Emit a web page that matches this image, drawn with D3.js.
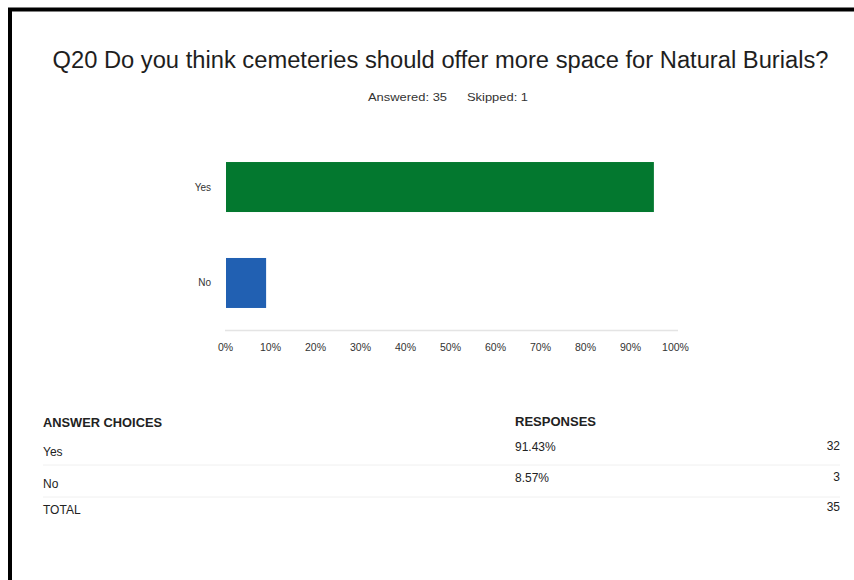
<!DOCTYPE html>
<html>
<head>
<meta charset="utf-8">
<script src="https://cdn.jsdelivr.net/npm/d3@7"></script>
<style>
  html, body { margin: 0; padding: 0; background: #fff; }
  svg { display: block; font-family: "Liberation Sans", Arial, sans-serif; }
</style>
</head>
<body>
<svg id="chart" width="854" height="580"></svg>
<script>
// Survey question Q20 results
const title = "Q20 Do you think cemeteries should offer more space for Natural Burials?";
const answered = 35;
const skipped = 1;
const categories = ["Yes", "No"];
const percents = [91.43, 8.57];
const counts = [32, 3];
const total = 35;
const tickValues = [0, 10, 20, 30, 40, 50, 60, 70, 80, 90, 100];
const tickLabels = ["0%", "10%", "20%", "30%", "40%", "50%", "60%", "70%", "80%", "90%", "100%"];
const barColors = ["#03782f", "#2160b2"];

const svg = d3.select("#chart");

// page frame
svg.append("path")
  .attr("d", "M10,580 V9.5 H854")
  .attr("fill", "none")
  .attr("stroke", "#000")
  .attr("stroke-width", 4);

// heading
svg.append("text")
  .attr("x", 52.5).attr("y", 68.3)
  .attr("font-size", 23)
  .attr("fill", "#1e1e1e")
  .attr("textLength", 776)
  .attr("lengthAdjust", "spacingAndGlyphs")
  .text(title);

svg.append("text")
  .attr("x", 368).attr("y", 101)
  .attr("font-size", 11)
  .attr("fill", "#333")
  .attr("textLength", 79)
  .attr("lengthAdjust", "spacingAndGlyphs")
  .text(`Answered: ${answered}`);
svg.append("text")
  .attr("x", 467).attr("y", 101)
  .attr("font-size", 11)
  .attr("fill", "#333")
  .attr("textLength", 61)
  .attr("lengthAdjust", "spacingAndGlyphs")
  .text(`Skipped: ${skipped}`);

// scales
const x = d3.scaleLinear().domain([0, 100]).range([226, 694]);
const xAxisScale = d3.scaleLinear().domain([0, 100]).range([225, 675]);
const y = d3.scaleBand().domain(categories).range([139, 331]).paddingInner(0.479).paddingOuter(0.24);

// baseline
svg.append("line")
  .attr("x1", xAxisScale(0)).attr("x2", xAxisScale(100) + 3)
  .attr("y1", 330.5).attr("y2", 330.5)
  .attr("stroke", "#e4e4e4")
  .attr("stroke-width", 1.5);

// bars
svg.append("g").selectAll("rect")
  .data(categories)
  .join("rect")
  .attr("x", x(0))
  .attr("y", d => y(d))
  .attr("width", (d, i) => x(percents[i]) - x(0))
  .attr("height", y.bandwidth())
  .attr("fill", (d, i) => barColors[i]);

// category labels
svg.append("g").selectAll("text")
  .data(categories)
  .join("text")
  .attr("x", 211)
  .attr("y", d => y(d) + y.bandwidth() / 2 + 3.5)
  .attr("text-anchor", "end")
  .attr("font-size", 10)
  .attr("fill", "#333")
  .text(d => d);

// percentage axis labels
const axis = d3.axisBottom(xAxisScale)
  .tickValues(tickValues)
  .tickFormat((d, i) => tickLabels[i])
  .tickSize(0)
  .tickPadding(0);
const axisG = svg.append("g")
  .attr("transform", "translate(0,344)")
  .call(axis);
axisG.select(".domain").remove();
axisG.selectAll("text")
  .attr("font-family", "Liberation Sans, Arial, sans-serif")
  .attr("font-size", 10.5)
  .attr("fill", "#333");

// response table
const table = svg.append("g").attr("fill", "#222");
table.append("text")
  .attr("x", 43).attr("y", 427)
  .attr("font-size", 12).attr("font-weight", "bold")
  .attr("textLength", 119).attr("lengthAdjust", "spacingAndGlyphs")
  .text("ANSWER CHOICES");
table.append("text")
  .attr("x", 515).attr("y", 426)
  .attr("font-size", 12).attr("font-weight", "bold")
  .attr("textLength", 81).attr("lengthAdjust", "spacingAndGlyphs")
  .text("RESPONSES");

const rowY = [456, 488];
const pctY = [451, 482];
categories.forEach((c, i) => {
  table.append("text").attr("x", 43).attr("y", rowY[i])
    .attr("font-size", 12).text(c);
  table.append("text").attr("x", 515).attr("y", pctY[i])
    .attr("font-size", 12).text(d3.format(".2f")(percents[i]) + "%");
  table.append("text").attr("x", 840).attr("y", pctY[i] - 1)
    .attr("font-size", 12).attr("text-anchor", "end").text(counts[i]);
});
table.append("text").attr("x", 43).attr("y", 514)
  .attr("font-size", 12).text("TOTAL");
table.append("text").attr("x", 840).attr("y", 511)
  .attr("font-size", 12).attr("text-anchor", "end").text(total);

// faint row separators
[465, 497].forEach(yy => {
  svg.append("line")
    .attr("x1", 43).attr("x2", 840)
    .attr("y1", yy).attr("y2", yy)
    .attr("stroke", "#f0f0f0")
    .attr("stroke-width", 1);
});
</script>
</body>
</html>
